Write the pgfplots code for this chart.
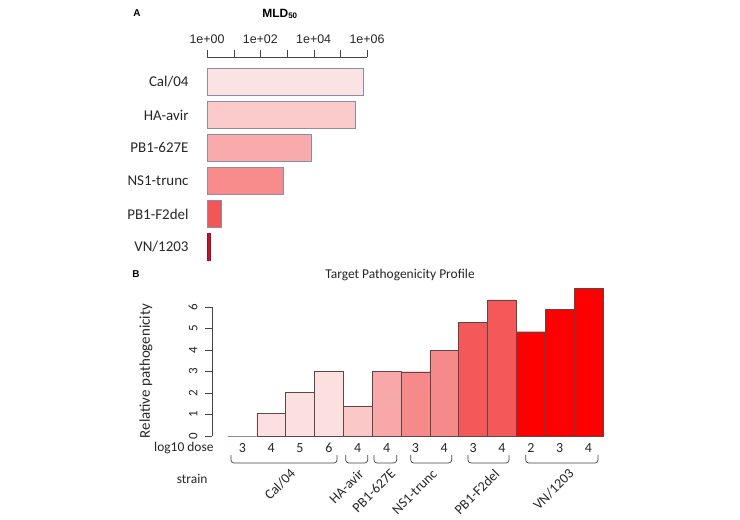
\documentclass[border=0pt]{standalone}
\usepackage{fontspec}
\setmainfont{Carlito}
\newfontfamily\arial{Liberation Sans}
\usepackage{pgfplots}
\pgfplotsset{compat=1.18}

% strain fills, panel A
\definecolor{aCal}{HTML}{FCE3E3}
\definecolor{aHA}{HTML}{FBCBCB}
\definecolor{aPBE}{HTML}{F9ABAB}
\definecolor{aNS}{HTML}{F88B8B}
\definecolor{aPBF}{HTML}{F45656}
\definecolor{aVN}{HTML}{C0142E}
\definecolor{aEdge}{HTML}{8C8CA6}
% strain fills, panel B
\definecolor{bCal}{HTML}{FCE0E0}
\definecolor{bHA}{HTML}{FBC8C8}
\definecolor{bPBE}{HTML}{F8A8A8}
\definecolor{bNS}{HTML}{F68A8A}
\definecolor{bPBF}{HTML}{F45858}
\definecolor{bVN}{HTML}{FF0000}
\definecolor{bEdge}{HTML}{5A4848}
\definecolor{axisgray}{HTML}{444444}

\tikzset{
  bracket/.style={draw=black!75, line width=0.7pt, rounded corners=3bp},
  strainlab/.style={font=\fontsize{14}{16}\selectfont, text=black!85, rotate=45, anchor=base east, inner sep=0pt},
}
\newcommand\strainbracket[2]{%
  \draw[bracket] (axis cs:#1,-0.884) -- (axis cs:#1,-1.256) -- (axis cs:#2,-1.256) -- (axis cs:#2,-0.884);}

\begin{document}
\begin{tikzpicture}[x=1bp,y=1bp]
\path (0,0) rectangle (740,520);

\node[font=\arial\bfseries\fontsize{10}{12}\selectfont] at (137,507) {A};
\node[font=\arial\bfseries\fontsize{10}{12}\selectfont] at (136,246) {B};
\node[font=\arial\bfseries\fontsize{12}{14}\selectfont] at (280,506) {MLD\textsubscript{50}};

% ---- Panel A: MLD50 per strain (log10 scale) ----
\begin{axis}[
  at={(207bp,256.5bp)}, anchor=south west,
  scale only axis, width=160bp, height=206.5bp,
  xmin=0, xmax=6, ymin=-0.7576, ymax=5.5, y dir=reverse,
  axis x line=top, axis y line=left,
  axis line style={-, axisgray},
  y axis line style={draw=none},
  xtick={0,...,6},
  xticklabels={1e+00,,1e+02,,1e+04,,1e+06},
  xtick style={axisgray},
  tick align=outside, major tick length=7bp,
  xticklabel style={font=\arial\fontsize{12.5}{14}\selectfont, text=black!85, yshift=3bp},
  ytick={0,...,5},
  yticklabels={Cal/04,HA-avir,PB1-627E,NS1-trunc,PB1-F2del,VN/1203},
  ytick style={draw=none},
  yticklabel style={font=\fontsize{15}{17}\selectfont, text=black!85, xshift=-8bp},
  clip=false,
]
\addplot[xbar, bar width=27bp, bar shift=0pt, fill=aCal, draw=aEdge] coordinates {(5.85,0)};
\addplot[xbar, bar width=27bp, bar shift=0pt, fill=aHA, draw=aEdge] coordinates {(5.55,1)};
\addplot[xbar, bar width=27bp, bar shift=0pt, fill=aPBE, draw=aEdge] coordinates {(3.89,2)};
\addplot[xbar, bar width=27bp, bar shift=0pt, fill=aNS, draw=aEdge] coordinates {(2.86,3)};
\addplot[xbar, bar width=27bp, bar shift=0pt, fill=aPBF, draw=aEdge] coordinates {(0.53,4)};
\addplot[xbar, bar width=27bp, bar shift=0pt, fill=aVN, draw=aVN!80!black] coordinates {(0.11,5)};
\end{axis}

% ---- Panel B: target pathogenicity profile ----
\node[font=\fontsize{13.5}{15}\selectfont, text=black!85] at (400,245) {Target Pathogenicity Profile};
\node[font=\fontsize{15}{17}\selectfont, text=black!85, rotate=90] at (146,149) {Relative pathogenicity};
\node[font=\fontsize{13.5}{15}\selectfont, text=black!85, anchor=east] at (217,72) {log10 dose};
\node[font=\fontsize{13.5}{15}\selectfont, text=black!85, anchor=east] at (211,41) {strain};

\begin{axis}[
  at={(212bp,84bp)}, anchor=south west,
  scale only axis, width=390.9bp, height=150.5bp,
  xmin=-0.05, xmax=13.5, ymin=0, ymax=7,
  axis x line=bottom, axis y line=left,
  axis line style={-},
  x axis line style={draw=none}, y axis line style={draw=none},
  xtick={1,...,13},
  xticklabels={3,4,5,6,4,4,3,4,3,4,2,3,4},
  xtick style={draw=none},
  xticklabel style={font=\fontsize{14}{16}\selectfont, text=black!85, yshift=3bp},
  ytick={0,...,6},
  ytick style={axisgray},
  tick align=outside, major tick length=7bp,
  /pgf/number format/assume math mode=true,
  yticklabel style={font=\fontsize{13}{15}\selectfont, text=black!85, xshift=-4bp, rotate=90, anchor=south},
  clip=false,
]
\draw[axisgray] (axis cs:-0.05,0) -- (axis cs:-0.05,6);
\addplot[ybar, bar width=1, bar shift=0pt, fill=bCal, draw=bEdge] coordinates {(1,0) (2,1.05) (3,2.02) (4,3.0)};
\addplot[ybar, bar width=1, bar shift=0pt, fill=bHA, draw=bEdge] coordinates {(5,1.37)};
\addplot[ybar, bar width=1, bar shift=0pt, fill=bPBE, draw=bEdge] coordinates {(6,3.0)};
\addplot[ybar, bar width=1, bar shift=0pt, fill=bNS, draw=bEdge] coordinates {(7,2.99) (8,3.98)};
\addplot[ybar, bar width=1, bar shift=0pt, fill=bPBF, draw=bEdge] coordinates {(9,5.30) (10,6.33)};
\addplot[ybar, bar width=1, bar shift=0pt, fill=bVN, draw=bEdge] coordinates {(11,4.85) (12,5.89) (13,6.88)};

% strain brackets
\strainbracket{0.609}{4.283}
\strainbracket{4.584}{5.347}
\strainbracket{5.565}{6.352}
\strainbracket{6.837}{8.258}
\strainbracket{8.823}{10.244}
\strainbracket{10.823}{13.329}
% strain names
\node[strainlab] at (axis cs:2.875,-1.805) {Cal/04};
\node[strainlab] at (axis cs:5.239,-1.805) {HA-avir};
\node[strainlab] at (axis cs:6.342,-1.805) {PB1-627E};
\node[strainlab] at (axis cs:7.780,-1.805) {NS1-trunc};
\node[strainlab] at (axis cs:9.952,-1.805) {PB1-F2del};
\node[strainlab] at (axis cs:12.522,-1.805) {VN/1203};
\end{axis}
\end{tikzpicture}
\end{document}
